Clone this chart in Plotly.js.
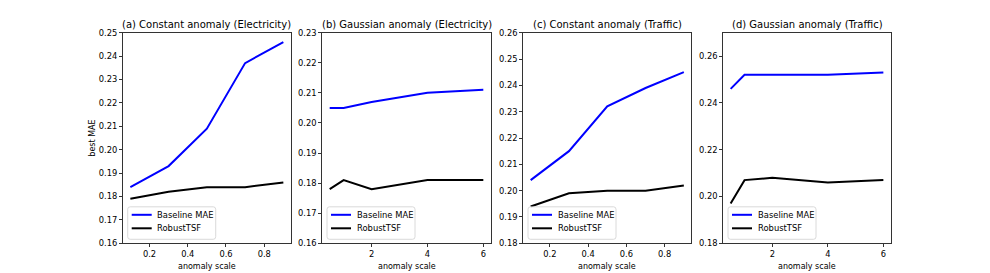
<!DOCTYPE html>
<html><head><meta charset="utf-8">
<script src="https://cdn.plot.ly/plotly-3.0.1.min.js"></script>
<style>html,body{margin:0;padding:0;background:#fff}</style>
</head><body><div id="chart" style="width:990px;height:273px"></div>
<script>
// ---- data ----
const constScale = [0.1, 0.3, 0.5, 0.7, 0.9];
const gaussScale = [0.5, 1, 2, 4, 6];
const elecConstBaseline = [0.184, 0.193, 0.209, 0.237, 0.246];
const elecConstRobust   = [0.179, 0.182, 0.184, 0.184, 0.186];
const elecGaussBaseline = [0.205, 0.205, 0.207, 0.210, 0.211];
const elecGaussRobust   = [0.178, 0.181, 0.178, 0.181, 0.181];
const trafConstBaseline = [0.204, 0.215, 0.232, 0.239, 0.245];
const trafConstRobust   = [0.194, 0.199, 0.200, 0.200, 0.202];
const trafGaussBaseline = [0.246, 0.252, 0.252, 0.252, 0.253];
const trafGaussRobust   = [0.197, 0.207, 0.208, 0.206, 0.207];
const panelTitles = ['(a) Constant anomaly (Electricity)', '(b) Gaussian anomaly (Electricity)',
                     '(c) Constant anomaly (Traffic)', '(d) Gaussian anomaly (Traffic)'];
const seriesNames = ['Baseline MAE', 'RobustTSF'];
const seriesColors = ['#0000ff', '#000000'];
const constTicks = [0.2, 0.4, 0.6, 0.8];
const gaussTicks = [2, 4, 6];
const xLabel = 'anomaly scale';
const yLabel = 'best MAE';

// ---- layout helpers ----
const W = 990, H = 273;
const FONT = 'DejaVu Sans, sans-serif';
const px = v => v / W;            // horizontal pixel -> paper
const py = v => 1 - v / H;        // vertical pixel (from top) -> paper
const xDomPx = [[122.7, 291], [322, 491], [523, 691.5], [723, 891]];
const yTopPx = 32.7, yBotPx = 243.3;
const yDom = [py(yBotPx), py(yTopPx)];
const yRanges = [[0.16, 0.25], [0.16, 0.23], [0.18, 0.26], [0.18, 0.27]];
const yDticks = [0.01, 0.01, 0.01, 0.02];
const panels = [
  {x: constScale, b: elecConstBaseline, r: elecConstRobust, ticks: constTicks},
  {x: gaussScale, b: elecGaussBaseline, r: elecGaussRobust, ticks: gaussTicks},
  {x: constScale, b: trafConstBaseline, r: trafConstRobust, ticks: constTicks},
  {x: gaussScale, b: trafGaussBaseline, r: trafGaussRobust, ticks: gaussTicks}
];

const traces = [];
const layout = {
  width: W, height: H,
  margin: {l: 0, r: 0, t: 0, b: 0},
  paper_bgcolor: '#fff', plot_bgcolor: '#fff',
  font: {family: FONT, size: 8.3, color: '#000'},
  annotations: [], shapes: [],
  showlegend: false
};

function roundedRect(x0, y0, x1, y1, r) {
  // pixel coords (y from top) -> paper path
  const X = v => px(v), Y = v => py(v);
  return `M${X(x0 + r)},${Y(y0)} L${X(x1 - r)},${Y(y0)} Q${X(x1)},${Y(y0)} ${X(x1)},${Y(y0 + r)} ` +
         `L${X(x1)},${Y(y1 - r)} Q${X(x1)},${Y(y1)} ${X(x1 - r)},${Y(y1)} ` +
         `L${X(x0 + r)},${Y(y1)} Q${X(x0)},${Y(y1)} ${X(x0)},${Y(y1 - r)} ` +
         `L${X(x0)},${Y(y0 + r)} Q${X(x0)},${Y(y0)} ${X(x0 + r)},${Y(y0)} Z`;
}

panels.forEach((p, i) => {
  const n = i + 1;
  const sfx = n === 1 ? '' : String(n);
  const xa = 'x' + sfx, ya = 'y' + sfx;
  [p.b, p.r].forEach((ys, k) => {
    traces.push({x: p.x, y: ys, xaxis: xa, yaxis: ya, type: 'scatter', mode: 'lines',
                 name: seriesNames[k], line: {color: seriesColors[k], width: 2}});
  });
  const xmin = Math.min(...p.x), xmax = Math.max(...p.x), pad = (xmax - xmin) * 0.05;
  const dom = [px(xDomPx[i][0]), px(xDomPx[i][1])];
  const axCommon = {
    ticks: 'outside', ticklen: 3, tickwidth: 0.8, tickcolor: '#000',
    showline: true, mirror: true, linecolor: '#000', linewidth: 0.8,
    showgrid: false, zeroline: false, tickfont: {size: 8.3, family: FONT, color: '#000'}
  };
  layout['xaxis' + sfx] = Object.assign({
    domain: dom, anchor: ya, range: [xmin - pad, xmax + pad], tickvals: p.ticks
  }, axCommon);
  layout['yaxis' + sfx] = Object.assign({
    domain: yDom, anchor: xa, range: yRanges[i],
    tick0: yRanges[i][0], dtick: yDticks[i], tickformat: '.2f'
  }, axCommon);

  // legend (matplotlib-style, lower left)
  const lx0 = xDomPx[i][0] + 5, lx1 = lx0 + 88;
  const ly1 = yBotPx - 4, ly0 = ly1 - 32.5;
  layout.shapes.push({
    type: 'path', xref: 'paper', yref: 'paper', layer: 'above',
    path: roundedRect(lx0, ly0, lx1, ly1, 2.5),
    fillcolor: 'rgba(255,255,255,0.8)', line: {color: 'rgba(204,204,204,0.9)', width: 0.8}
  });
  const rowsY = [ly0 + 8, ly0 + 21.5];
  seriesNames.forEach((nm, k) => {
    layout.shapes.push({
      type: 'line', xref: 'paper', yref: 'paper', layer: 'above',
      x0: px(lx0 + 4), x1: px(lx0 + 24), y0: py(rowsY[k]), y1: py(rowsY[k]),
      line: {color: seriesColors[k], width: 2}
    });
    layout.annotations.push({
      text: nm, xref: 'paper', yref: 'paper', x: px(lx0 + 27.5), y: py(rowsY[k]),
      xanchor: 'left', yanchor: 'middle', showarrow: false,
      font: {size: 8.4, family: FONT, color: '#000'}
    });
  });

  layout.annotations.push({
    text: panelTitles[i], xref: 'paper', yref: 'paper',
    x: (dom[0] + dom[1]) / 2, y: py(24), xanchor: 'center', yanchor: 'middle',
    showarrow: false, font: {size: 10, family: FONT, color: '#000'}
  });
  layout.annotations.push({
    text: xLabel, xref: 'paper', yref: 'paper',
    x: (dom[0] + dom[1]) / 2, y: py(266.5), xanchor: 'center', yanchor: 'middle',
    showarrow: false, font: {size: 8, family: FONT, color: '#000'}
  });
});
layout.annotations.push({
  text: yLabel, xref: 'paper', yref: 'paper', textangle: -90,
  x: px(91.7), y: (yDom[0] + yDom[1]) / 2, xanchor: 'center', yanchor: 'middle',
  showarrow: false, font: {size: 8, family: FONT, color: '#000'}
});

Plotly.newPlot('chart', traces, layout, {displayModeBar: false, staticPlot: true});
</script>
</body></html>
